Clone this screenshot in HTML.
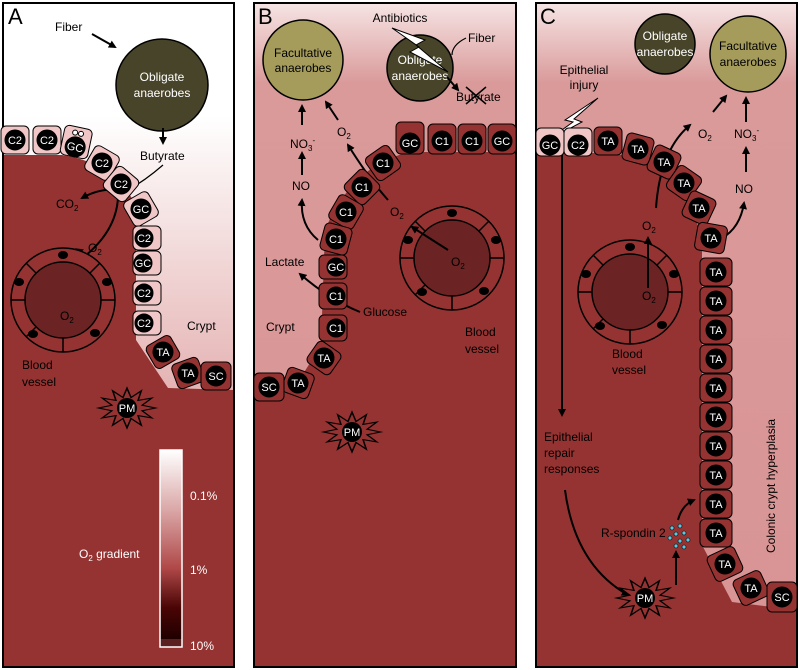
<!DOCTYPE html>
<html><head><meta charset="utf-8"><style>
html,body{margin:0;padding:0;background:#fff}
svg{display:block;font-family:"Liberation Sans",sans-serif}
.cl{fill:#fff;font-size:11px;text-anchor:middle}
.t{font-size:12px;fill:#000}
.w{font-size:12px;fill:#fff}
.ar{stroke:#000;stroke-width:2;fill:none;marker-end:url(#ah)}
</style></head><body>
<svg width="800" height="670" viewBox="0 0 800 670" xmlns="http://www.w3.org/2000/svg">
<defs>
<marker id="ah" markerWidth="8" markerHeight="8" refX="6" refY="4" orient="auto" markerUnits="userSpaceOnUse"><path d="M0,0 L8,4 L0,8 Z" fill="#000"/></marker>
<linearGradient id="gA" x1="0" y1="0" x2="0" y2="1"><stop offset="0.17" stop-color="#fff"/><stop offset="0.6" stop-color="#e4b0b0"/><stop offset="1" stop-color="#dba0a0"/></linearGradient>
<linearGradient id="gB" x1="0" y1="0" x2="0" y2="1"><stop offset="0" stop-color="#f6e4e4"/><stop offset="0.12" stop-color="#da9a9a"/><stop offset="1" stop-color="#d99494"/></linearGradient>
<linearGradient id="gL" x1="0" y1="0" x2="0" y2="1"><stop offset="0" stop-color="#fff"/><stop offset="0.3" stop-color="#dba8a8"/><stop offset="0.6" stop-color="#b04848"/><stop offset="0.8" stop-color="#4a0505"/><stop offset="0.96" stop-color="#200000"/><stop offset="0.96" stop-color="#5a2020"/><stop offset="1" stop-color="#5a2020"/></linearGradient>
<g id="pm"><polygon points="22,0 11.6,3.1 19.1,11 8.5,8.5 11,19.1 3.1,11.6 0,22 -3.1,11.6 -11,19.1 -8.5,8.5 -19.1,11 -11.6,3.1 -22,0 -11.6,-3.1 -19.1,-11 -8.5,-8.5 -11,-19.1 -3.1,-11.6 0,-22 3.1,-11.6 11,-19.1 8.5,-8.5 19.1,-11 11.6,-3.1" fill="#943331" stroke="#000" stroke-width="1.2" transform="scale(1.3,0.9)"/><circle r="10" fill="#000"/></g>
<g id="ves"><circle r="52" fill="#943331" stroke="#000" stroke-width="1.5"/><circle r="38" fill="#6b2323" stroke="#000" stroke-width="1.5"/>
<g stroke="#000" stroke-width="1.5"><line x1="38" y1="0" x2="52" y2="0"/><line x1="-38" y1="0" x2="-52" y2="0"/><line x1="0" y1="38" x2="0" y2="52"/><line x1="27" y1="-27" x2="37" y2="-37"/><line x1="-27" y1="-27" x2="-37" y2="-37"/><line x1="-27" y1="27" x2="-37" y2="37"/></g>
<ellipse cx="44" cy="-18" rx="5" ry="4" fill="#000"/><ellipse cx="-44" cy="-18" rx="5" ry="4" fill="#000"/><ellipse cx="-30" cy="34" rx="5" ry="4" fill="#000"/><ellipse cx="32" cy="33" rx="5" ry="4" fill="#000"/><ellipse cx="0" cy="-45" rx="5" ry="4" fill="#000"/></g>
</defs>

<!-- Panel A -->
<rect x="3" y="3" width="231" height="664" fill="url(#gA)"/>
<path d="M3,155 L62,155 Q112,162 136,205 L136,340 L168,388 L234,390 L234,667 L3,667 Z" fill="#943331"/>
<rect x="3" y="3" width="231" height="664" fill="none" stroke="#000" stroke-width="2"/>
<text x="8" y="24" font-size="22" fill="#000">A</text>
<text x="55" y="31" class="t" font-size="13">Fiber</text>
<path d="M92,34 L115,47" class="ar"/>
<circle cx="162" cy="85" r="46" fill="#48442a" stroke="#000" stroke-width="1.5"/>
<text x="162" y="81" class="w" font-size="13" text-anchor="middle">Obligate</text>
<text x="162" y="97" class="w" font-size="13" text-anchor="middle">anaerobes</text>
<path d="M163,128 L163,143" class="ar"/>
<text x="140" y="160" class="t" font-size="13">Butyrate</text>
<path d="M163,165 Q140,185 118,195" stroke="#000" fill="none" stroke-width="1.2"/>
<path d="M80,260 Q120,230 118,190 Q100,188 82,198" class="ar"/>
<path d="M58,305 Q48,262 82,250" class="ar"/>
<text x="56" y="208" class="t" font-size="13">CO<tspan font-size="8" dy="3">2</tspan></text>
<text x="88" y="252" class="t" font-size="13">O<tspan font-size="8" dy="3">2</tspan></text>
<use href="#ves" x="63" y="300"/>
<text x="60" y="320" class="t" font-size="13">O<tspan font-size="8" dy="3">2</tspan></text>
<text x="22" y="369" class="t" font-size="13">Blood</text>
<text x="22" y="386" class="t" font-size="13">vessel</text>
<text x="187" y="330" class="t" font-size="13">Crypt</text>
<g stroke="#000" stroke-width="1">
<g transform="translate(15,140)"><rect x="-14" y="-14" width="28" height="28" rx="5" fill="#f0c6c6"/><circle r="10"/><text class="cl" y="4" stroke="none">C2</text></g>
<g transform="translate(47,140)"><rect x="-14" y="-14" width="28" height="28" rx="5" fill="#f0c6c6"/><circle r="10"/><text class="cl" y="4" stroke="none">C2</text></g>
<g transform="translate(76,143) rotate(12)"><rect x="-14" y="-16" width="28" height="30" rx="5" fill="#f0c6c6"/><circle r="10" cy="4"/><text class="cl" y="8" stroke="none">GC</text><circle cx="-3" cy="-10" r="2.5" fill="#fff"/><circle cx="3" cy="-10" r="2.5" fill="#fff"/></g>
<g transform="translate(102,163) rotate(30)"><rect x="-14" y="-14" width="28" height="28" rx="5" fill="#f0c6c6"/><circle r="10"/><text class="cl" y="4" stroke="none" transform="rotate(-30)">C2</text></g>
<g transform="translate(121,184) rotate(40)"><rect x="-14" y="-14" width="28" height="28" rx="5" fill="#f0c6c6"/><circle r="10"/><text class="cl" y="4" stroke="none" transform="rotate(-40)">C2</text></g>
<g transform="translate(141,209) rotate(60)"><rect x="-14" y="-14" width="28" height="28" rx="5" fill="#f0c6c6"/><circle r="10"/><text class="cl" y="4" stroke="none" transform="rotate(-60)">GC</text></g>
<g transform="translate(147,238)"><rect x="-14" y="-12" width="28" height="24" rx="5" fill="#f0c6c6"/><circle r="9" cx="-3"/><text class="cl" x="-3" y="4" stroke="none">C2</text></g>
<g transform="translate(147,263)"><rect x="-14" y="-12" width="28" height="24" rx="5" fill="#f0c6c6"/><circle r="9" cx="-4"/><text class="cl" x="-4" y="4" stroke="none">GC</text></g>
<g transform="translate(147,293)"><rect x="-14" y="-12" width="28" height="24" rx="5" fill="#f0c6c6"/><circle r="9" cx="-3"/><text class="cl" x="-3" y="4" stroke="none">C2</text></g>
<g transform="translate(147,323)"><rect x="-14" y="-12" width="28" height="24" rx="5" fill="#f0c6c6"/><circle r="9" cx="-3"/><text class="cl" x="-3" y="4" stroke="none">C2</text></g>
<g transform="translate(163,352) rotate(-30)"><rect x="-14" y="-13" width="28" height="26" rx="5" fill="#943331"/><circle r="10"/><text class="cl" y="4" stroke="none" transform="rotate(30)">TA</text></g>
<g transform="translate(188,373) rotate(-20)"><rect x="-14" y="-13" width="28" height="26" rx="5" fill="#943331"/><circle r="10"/><text class="cl" y="4" stroke="none" transform="rotate(20)">TA</text></g>
<g transform="translate(216,376)"><rect x="-15" y="-14" width="30" height="28" rx="5" fill="#943331"/><circle r="10"/><text class="cl" y="4" stroke="none">SC</text></g>
</g>
<use href="#pm" x="127" y="408"/><text x="127" y="412" class="cl">PM</text>
<rect x="160" y="450" width="22" height="197" fill="url(#gL)" stroke="#fff" stroke-width="1.5"/>
<text x="190" y="500" class="w" font-size="13">0.1%</text>
<text x="190" y="574" class="w" font-size="13">1%</text>
<text x="190" y="650" class="w" font-size="13">10%</text>
<text x="79" y="558" class="w" font-size="13">O<tspan font-size="8" dy="3">2</tspan><tspan dy="-3"> gradient</tspan></text>

<!-- Panel B -->
<rect x="254" y="3" width="262" height="664" fill="url(#gB)"/>
<path d="M516,152 L410,152 Q352,165 325,230 L321,345 L292,392 L254,396 L254,667 L516,667 Z" fill="#943331"/>
<rect x="254" y="3" width="262" height="664" fill="none" stroke="#000" stroke-width="2"/>
<text x="258" y="24" font-size="22" fill="#000">B</text>
<circle cx="303" cy="60" r="40" fill="#a59c5c" stroke="#000" stroke-width="1.5"/>
<text x="303" y="57" class="t" font-size="13" text-anchor="middle">Facultative</text>
<text x="303" y="72" class="t" font-size="13" text-anchor="middle">anaerobes</text>
<text x="400" y="22" class="t" font-size="13" text-anchor="middle">Antibiotics</text>
<circle cx="420" cy="68" r="33" fill="#48442a" stroke="#000" stroke-width="1.5"/>
<text x="420" y="64" class="w" font-size="13" text-anchor="middle">Obligate</text>
<text x="420" y="80" class="w" font-size="13" text-anchor="middle">anaerobes</text>
<polygon points="392,28 425,40 416,45 448,72 410,52 419,47" fill="#fff" stroke="#000"/>
<text x="468" y="42" class="t" font-size="13">Fiber</text>
<path d="M466,38 Q452,45 452,55" stroke="#000" fill="none" stroke-width="1.2"/>
<path d="M447,77 L458,90" class="ar"/>
<text x="456" y="101" class="t" font-size="13">Butyrate</text>
<path d="M466,87 L486,104 M486,87 L466,104" stroke="#000" stroke-width="1.5"/>
<path d="M302,125 L302,106" class="ar"/>
<text x="290" y="148" class="t" font-size="13">NO<tspan font-size="8" dy="3">3</tspan><tspan font-size="8" dy="-8">-</tspan></text>
<path d="M302,175 L302,153" class="ar"/>
<text x="292" y="190" class="t" font-size="13">NO</text>
<path d="M318,240 Q300,225 302,200" class="ar"/>
<text x="337" y="136" class="t" font-size="13">O<tspan font-size="8" dy="3">2</tspan></text>
<path d="M338,120 L326,102" class="ar"/>
<path d="M388,200 Q370,180 348,145" class="ar"/>
<text x="390" y="216" class="t" font-size="13">O<tspan font-size="8" dy="3">2</tspan></text>
<use href="#ves" x="452" y="258"/>
<path d="M448,250 L412,227" class="ar"/>
<text x="451" y="266" class="t" font-size="13">O<tspan font-size="8" dy="3">2</tspan></text>
<text x="265" y="266" class="t" font-size="13">Lactate</text>
<path d="M360,312 Q330,300 300,274" class="ar"/>
<text x="363" y="316" class="t" font-size="13">Glucose</text>
<text x="266" y="331" class="t" font-size="13">Crypt</text>
<text x="465" y="336" class="t" font-size="13">Blood</text>
<text x="465" y="353" class="t" font-size="13">vessel</text>
<g stroke="#000" stroke-width="1">
<g transform="translate(410,139)"><rect x="-14" y="-17" width="28" height="32" rx="5" fill="#943331"/><circle r="10" cy="4"/><text class="cl" y="8" stroke="none">GC</text></g>
<g transform="translate(442,139)"><rect x="-14" y="-15" width="28" height="30" rx="5" fill="#943331"/><circle r="10" cy="2"/><text class="cl" y="6" stroke="none">C1</text></g>
<g transform="translate(472,139)"><rect x="-14" y="-15" width="28" height="30" rx="5" fill="#943331"/><circle r="10" cy="2"/><text class="cl" y="6" stroke="none">C1</text></g>
<g transform="translate(502,139)"><rect x="-14" y="-15" width="28" height="30" rx="5" fill="#943331"/><circle r="10" cy="2"/><text class="cl" y="6" stroke="none">GC</text></g>
<g transform="translate(383,163) rotate(-35)"><rect x="-14" y="-14" width="28" height="28" rx="5" fill="#943331"/><circle r="10"/><text class="cl" y="4" stroke="none" transform="rotate(35)">C1</text></g>
<g transform="translate(362,187) rotate(-45)"><rect x="-14" y="-14" width="28" height="28" rx="5" fill="#943331"/><circle r="10"/><text class="cl" y="4" stroke="none" transform="rotate(45)">C1</text></g>
<g transform="translate(346,212) rotate(-60)"><rect x="-14" y="-14" width="28" height="28" rx="5" fill="#943331"/><circle r="10"/><text class="cl" y="4" stroke="none" transform="rotate(60)">C1</text></g>
<g transform="translate(336,239) rotate(-75)"><rect x="-14" y="-14" width="28" height="28" rx="5" fill="#943331"/><circle r="10"/><text class="cl" y="4" stroke="none" transform="rotate(75)">C1</text></g>
<g transform="translate(333,267)"><rect x="-14" y="-12" width="28" height="24" rx="5" fill="#943331"/><circle r="9" cx="3"/><text class="cl" x="3" y="4" stroke="none">GC</text></g>
<g transform="translate(333,296)"><rect x="-14" y="-13" width="28" height="26" rx="5" fill="#943331"/><circle r="9" cx="3"/><text class="cl" x="3" y="4" stroke="none">C1</text></g>
<g transform="translate(333,328)"><rect x="-14" y="-13" width="28" height="26" rx="5" fill="#943331"/><circle r="9" cx="3"/><text class="cl" x="3" y="4" stroke="none">C1</text></g>
<g transform="translate(324,358) rotate(35)"><rect x="-14" y="-13" width="28" height="26" rx="5" fill="#943331"/><circle r="10"/><text class="cl" y="4" stroke="none" transform="rotate(-35)">TA</text></g>
<g transform="translate(298,383) rotate(20)"><rect x="-14" y="-13" width="28" height="26" rx="5" fill="#943331"/><circle r="10"/><text class="cl" y="4" stroke="none" transform="rotate(-20)">TA</text></g>
<g transform="translate(269,387)"><rect x="-15" y="-14" width="30" height="28" rx="5" fill="#943331"/><circle r="10"/><text class="cl" y="4" stroke="none">SC</text></g>
</g>
<use href="#pm" x="352" y="432"/><text x="352" y="436" class="cl">PM</text>

<!-- Panel C -->
<rect x="536" y="3" width="261" height="664" fill="url(#gB)"/>
<path d="M536,153 L610,153 Q690,165 702,245 L702,545 L732,602 L797,610 L797,667 L536,667 Z" fill="#943331"/>
<rect x="536" y="3" width="261" height="664" fill="none" stroke="#000" stroke-width="2"/>
<text x="540" y="24" font-size="22" fill="#000">C</text>
<circle cx="665" cy="44" r="30" fill="#48442a" stroke="#000" stroke-width="1.5"/>
<text x="665" y="40" class="w" font-size="13" text-anchor="middle">Obligate</text>
<text x="665" y="56" class="w" font-size="13" text-anchor="middle">anaerobes</text>
<circle cx="748" cy="54" r="38" fill="#a59c5c" stroke="#000" stroke-width="1.5"/>
<text x="748" y="50" class="t" font-size="13" text-anchor="middle">Facultative</text>
<text x="748" y="66" class="t" font-size="13" text-anchor="middle">anaerobes</text>
<text x="584" y="74" class="t" font-size="13" text-anchor="middle">Epithelial</text>
<text x="584" y="89" class="t" font-size="13" text-anchor="middle">injury</text>
<polygon points="598,98 565,120 573,122 548,140 582,122 574,119" fill="#fff" stroke="#000"/>
<path d="M562,150 L562,415" class="ar"/>
<text x="544" y="441" class="t" font-size="13">Epithelial</text>
<text x="544" y="457" class="t" font-size="13">repair</text>
<text x="544" y="473" class="t" font-size="13">responses</text>
<path d="M565,490 Q575,565 628,595" class="ar"/>
<use href="#pm" x="645" y="598"/><text x="645" y="602" class="cl">PM</text>
<path d="M676,585 L676,552" class="ar"/>
<text x="601" y="537" class="t" font-size="11">R-spondin 2</text>
<g fill="#5ac8e0" stroke="#000" stroke-width="0.6"><circle cx="672" cy="528" r="2"/><circle cx="680" cy="526" r="2"/><circle cx="676" cy="534" r="2"/><circle cx="684" cy="533" r="2"/><circle cx="670" cy="538" r="2"/><circle cx="680" cy="541" r="2"/><circle cx="688" cy="540" r="2"/><circle cx="676" cy="546" r="2"/><circle cx="684" cy="547" r="2"/></g>
<path d="M678,520 Q682,505 694,500" class="ar"/>
<text transform="translate(775,553) rotate(-90)" class="t" font-size="14">Colonic crypt hyperplasia</text>
<use href="#ves" x="630" y="292"/>
<path d="M648,288 L648,238" class="ar"/>
<text x="642" y="300" class="t" font-size="13">O<tspan font-size="8" dy="3">2</tspan></text>
<text x="642" y="230" class="t" font-size="13">O<tspan font-size="8" dy="3">2</tspan></text>
<path d="M656,208 Q660,150 690,125" class="ar"/>
<text x="698" y="138" class="t" font-size="13">O<tspan font-size="8" dy="3">2</tspan></text>
<path d="M713,112 L726,96" class="ar"/>
<text x="734" y="138" class="t" font-size="13">NO<tspan font-size="8" dy="3">3</tspan><tspan font-size="8" dy="-8">-</tspan></text>
<path d="M746,122 L746,98" class="ar"/>
<text x="735" y="193" class="t" font-size="13">NO</text>
<path d="M746,172 L746,148" class="ar"/>
<path d="M722,238 Q740,228 744,203" class="ar"/>
<g stroke="#000" stroke-width="1">
<g transform="translate(550,142)"><rect x="-14" y="-14" width="28" height="28" rx="5" fill="#f0c6c6"/><circle r="10" cy="3"/><text class="cl" y="7" stroke="none">GC</text></g>
<g transform="translate(578,142)"><rect x="-14" y="-14" width="28" height="28" rx="5" fill="#f0c6c6"/><circle r="10" cy="3"/><text class="cl" y="7" stroke="none">C2</text></g>
<g transform="translate(608,141)"><rect x="-14" y="-14" width="28" height="28" rx="5" fill="#943331"/><circle r="10"/><text class="cl" y="4" stroke="none">TA</text></g>
<g transform="translate(638,149) rotate(15)"><rect x="-14" y="-14" width="28" height="28" rx="5" fill="#943331"/><circle r="10"/><text class="cl" y="4" stroke="none" transform="rotate(-15)">TA</text></g>
<g transform="translate(664,162) rotate(25)"><rect x="-14" y="-14" width="28" height="28" rx="5" fill="#943331"/><circle r="10"/><text class="cl" y="4" stroke="none" transform="rotate(-25)">TA</text></g>
<g transform="translate(684,183) rotate(35)"><rect x="-14" y="-14" width="28" height="28" rx="5" fill="#943331"/><circle r="10"/><text class="cl" y="4" stroke="none" transform="rotate(-35)">TA</text></g>
<g transform="translate(699,208) rotate(25)"><rect x="-14" y="-14" width="28" height="28" rx="5" fill="#943331"/><circle r="10"/><text class="cl" y="4" stroke="none" transform="rotate(-25)">TA</text></g>
<g transform="translate(711,238) rotate(10)"><rect x="-15" y="-14" width="30" height="28" rx="5" fill="#943331"/><circle r="10"/><text class="cl" y="4" stroke="none" transform="rotate(-10)">TA</text></g>
<g transform="translate(716,272)"><rect x="-16" y="-14" width="32" height="28" rx="5" fill="#943331"/><circle r="10"/><text class="cl" y="4" stroke="none">TA</text></g>
<g transform="translate(716,301)"><rect x="-16" y="-14" width="32" height="28" rx="5" fill="#943331"/><circle r="10"/><text class="cl" y="4" stroke="none">TA</text></g>
<g transform="translate(716,330)"><rect x="-16" y="-14" width="32" height="28" rx="5" fill="#943331"/><circle r="10"/><text class="cl" y="4" stroke="none">TA</text></g>
<g transform="translate(716,359)"><rect x="-16" y="-14" width="32" height="28" rx="5" fill="#943331"/><circle r="10"/><text class="cl" y="4" stroke="none">TA</text></g>
<g transform="translate(716,388)"><rect x="-16" y="-14" width="32" height="28" rx="5" fill="#943331"/><circle r="10"/><text class="cl" y="4" stroke="none">TA</text></g>
<g transform="translate(716,417)"><rect x="-16" y="-14" width="32" height="28" rx="5" fill="#943331"/><circle r="10"/><text class="cl" y="4" stroke="none">TA</text></g>
<g transform="translate(716,446)"><rect x="-16" y="-14" width="32" height="28" rx="5" fill="#943331"/><circle r="10"/><text class="cl" y="4" stroke="none">TA</text></g>
<g transform="translate(716,475)"><rect x="-16" y="-14" width="32" height="28" rx="5" fill="#943331"/><circle r="10"/><text class="cl" y="4" stroke="none">TA</text></g>
<g transform="translate(716,504)"><rect x="-16" y="-14" width="32" height="28" rx="5" fill="#943331"/><circle r="10"/><text class="cl" y="4" stroke="none">TA</text></g>
<g transform="translate(716,533)"><rect x="-16" y="-14" width="32" height="28" rx="5" fill="#943331"/><circle r="10"/><text class="cl" y="4" stroke="none">TA</text></g>
<g transform="translate(725,564) rotate(-25)"><rect x="-15" y="-14" width="30" height="28" rx="5" fill="#943331"/><circle r="10"/><text class="cl" y="4" stroke="none" transform="rotate(25)">TA</text></g>
<g transform="translate(751,588) rotate(-25)"><rect x="-15" y="-14" width="30" height="28" rx="5" fill="#943331"/><circle r="10"/><text class="cl" y="4" stroke="none" transform="rotate(25)">TA</text></g>
<g transform="translate(782,597)"><rect x="-15" y="-15" width="30" height="30" rx="5" fill="#943331"/><circle r="10"/><text class="cl" y="4" stroke="none">SC</text></g>
</g>
<text x="612" y="358" class="t" font-size="13">Blood</text>
<text x="612" y="374" class="t" font-size="13">vessel</text>
</svg>
</body></html>
